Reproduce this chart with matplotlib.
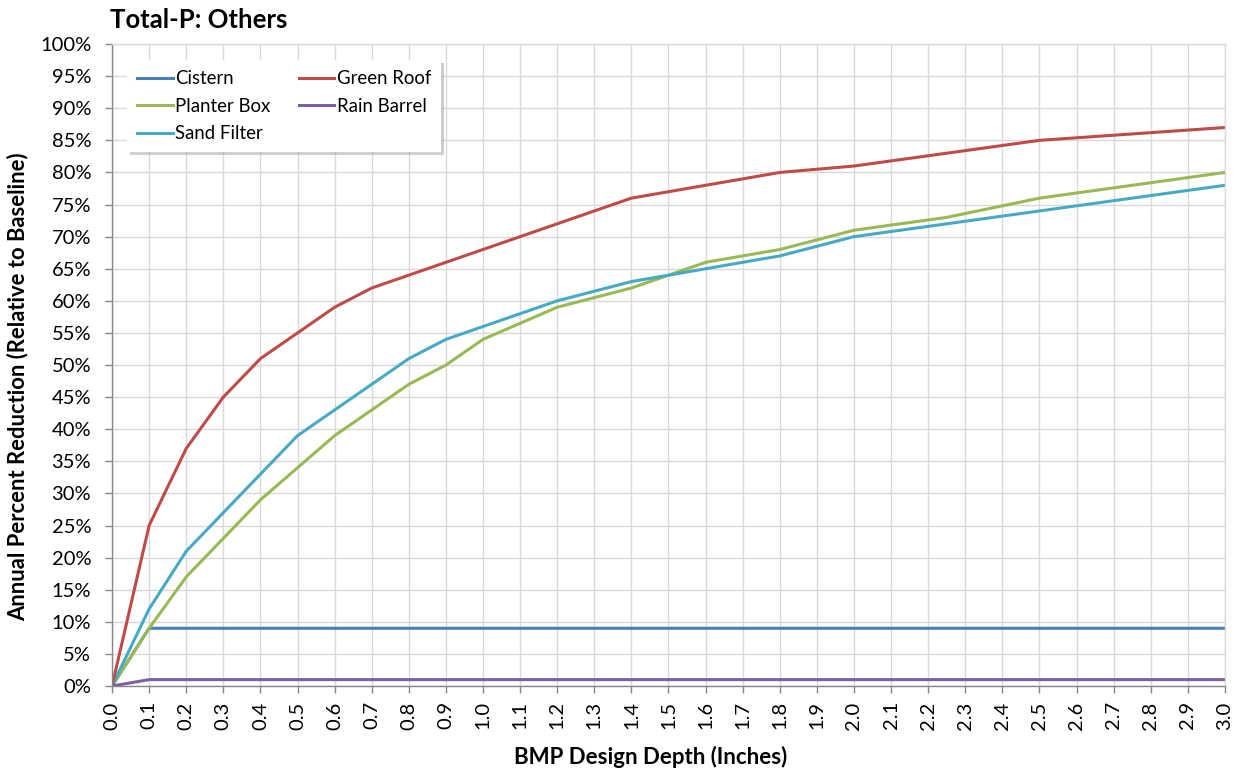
import matplotlib
matplotlib.use('Agg')
import matplotlib.pyplot as plt
import numpy as np
from matplotlib.ticker import FuncFormatter, MultipleLocator

plt.rcParams['font.family'] = ['Lato', 'DejaVu Sans']

# design depth (inches)
depth = [0.0, 0.1, 0.2, 0.3, 0.4, 0.5, 0.6, 0.7, 0.8, 0.9, 1.0,
         1.2, 1.4, 1.6, 1.8, 2.0, 2.25, 2.5, 3.0]

# annual percent reduction (%)
cistern = [0, 9, 9, 9, 9, 9, 9, 9, 9, 9, 9, 9, 9, 9, 9, 9, 9, 9, 9]
green_roof = [0, 25, 37, 45, 51, 55, 59, 62, 64, 66, 68,
              72, 76, 78, 80, 81, 83, 85, 87]
planter_box = [0, 9, 17, 23, 29, 34, 39, 43, 47, 50, 54,
               59, 62, 66, 68, 71, 73, 76, 80]
rain_barrel = [0, 1, 1, 1, 1, 1, 1, 1, 1, 1, 1, 1, 1, 1, 1, 1, 1, 1, 1]
sand_filter = [0, 12, 21, 27, 33, 39, 43, 47, 51, 54, 56,
               60, 63, 65, 67, 70, 72, 74, 78]

series = [
    ('Cistern', cistern, '#4a7ebb'),
    ('Planter Box', planter_box, '#98b954'),
    ('Sand Filter', sand_filter, '#46aac5'),
    ('Green Roof', green_roof, '#be4b48'),
    ('Rain Barrel', rain_barrel, '#7d60a0'),
]

fig = plt.figure(figsize=(12.46, 7.73), dpi=100)
ax = fig.add_axes([0.0899, 0.1125, 0.8932, 0.8305])

for name, vals, color in series:
    ax.plot(depth, np.array(vals) / 100.0, color=color, lw=2.2, label=name)

ax.set_xlim(0, 3.0)
ax.set_ylim(0, 1.0)
ax.xaxis.set_major_locator(MultipleLocator(0.1))
ax.yaxis.set_major_locator(MultipleLocator(0.05))
ax.xaxis.set_major_formatter(FuncFormatter(lambda v, p: f'{v:.1f}'))
ax.yaxis.set_major_formatter(FuncFormatter(lambda v, p: f'{v * 100:.0f}%'))
ax.grid(True, color='#d9d9d9', lw=1.0)
ax.set_axisbelow(True)

for s in ['left', 'bottom']:
    ax.spines[s].set_color('#868686')
    ax.spines[s].set_linewidth(1.0)
for s in ['top', 'right']:
    ax.spines[s].set_color('#d9d9d9')
    ax.spines[s].set_linewidth(1.0)

ax.tick_params(axis='both', colors='#868686', length=5, width=1.0,
               labelcolor='black', labelsize=14.5)
ax.tick_params(axis='y', pad=10)
ax.tick_params(axis='x', labelrotation=90, pad=6)

ax.set_xlabel('BMP Design Depth (Inches)', fontsize=16, fontweight='bold',
              va='center')
ax.set_ylabel('Annual Percent Reduction (Relative to Baseline)', fontsize=15.8,
              fontweight='bold', va='center')
ax.xaxis.set_label_coords(0.484, -0.1106)
ax.yaxis.set_label_coords(-0.0845, 0.466)

fig.text(0.088, 0.974, 'Total-P: Others', fontsize=18.5, fontweight='bold',
         ha='left', va='center')

leg = ax.legend(ncol=2, loc='upper left', bbox_to_anchor=(0.0135, 0.975),
                borderaxespad=0, fontsize=13.4, frameon=True, fancybox=False,
                shadow={'color': '#a0a0a0', 'alpha': 0.5},
                edgecolor='white', columnspacing=1.5, handlelength=1.9,
                handletextpad=0.15, borderpad=0.55, labelspacing=0.56)
leg.get_frame().set_linewidth(0)

fig.savefig('out.png', dpi=100)
